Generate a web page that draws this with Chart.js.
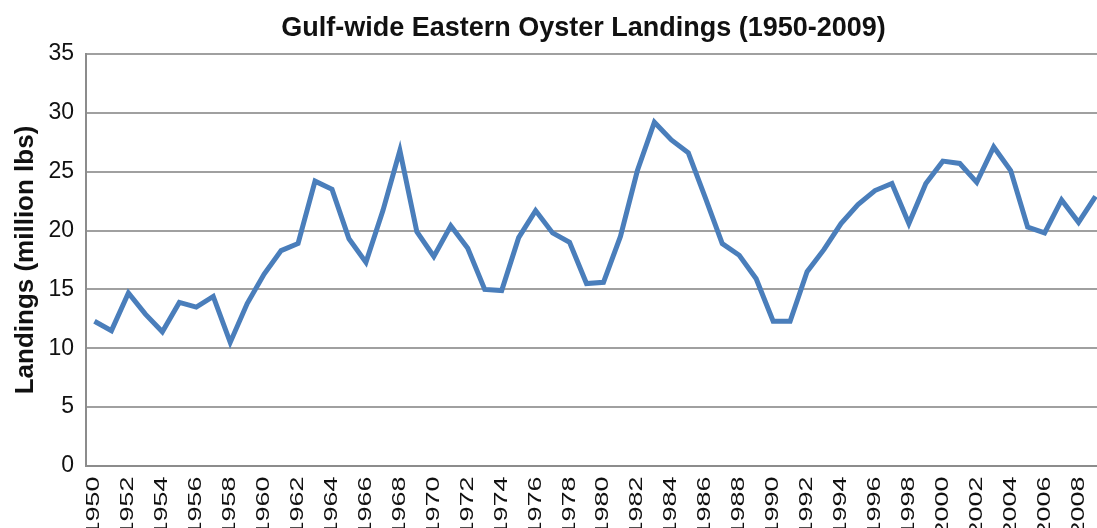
<!DOCTYPE html>
<html>
<head>
<meta charset="utf-8">
<script src="https://cdn.jsdelivr.net/npm/chart.js@4"></script>
<style>
  html, body { margin: 0; padding: 0; background: #fff; overflow: hidden; }
  #wrap { position: relative; width: 1167px; height: 560px; }
</style>
</head>
<body>
<div id="wrap"><canvas id="c"></canvas></div>
<script>
const titleText = 'Gulf-wide Eastern Oyster Landings (1950-2009)';
const yAxisTitle = 'Landings (million lbs)';
const years = [
  '1950','1951','1952','1953','1954','1955','1956','1957','1958','1959',
  '1960','1961','1962','1963','1964','1965','1966','1967','1968','1969',
  '1970','1971','1972','1973','1974','1975','1976','1977','1978','1979',
  '1980','1981','1982','1983','1984','1985','1986','1987','1988','1989',
  '1990','1991','1992','1993','1994','1995','1996','1997','1998','1999',
  '2000','2001','2002','2003','2004','2005','2006','2007','2008','2009'
];
const landings = [
  12.3, 11.5, 14.7, 12.9, 11.4, 13.9, 13.5, 14.4, 10.5, 13.8,
  16.3, 18.3, 18.9, 24.2, 23.5, 19.3, 17.3, 21.7, 26.8, 19.9,
  17.8, 20.4, 18.5, 15.0, 14.9, 19.4, 21.7, 19.8, 19.0, 15.5,
  15.6, 19.5, 25.1, 29.2, 27.7, 26.6, 22.8, 18.9, 17.9, 15.9,
  12.3, 12.3, 16.5, 18.4, 20.6, 22.2, 23.4, 24.0, 20.6, 24.0,
  25.9, 25.7, 24.1, 27.1, 25.1, 20.3, 19.8, 22.6, 20.7, 22.9
];
const yTicks = [0, 5, 10, 15, 20, 25, 30, 35];

const ctx = document.getElementById('c');
new Chart(ctx, {
  type: 'line',
  data: {
    labels: years,
    datasets: [{
      data: landings,
      borderColor: '#4a7ebb',
      borderWidth: 5,
      pointRadius: 0,
      tension: 0,
      fill: false
    }]
  },
  options: {
    responsive: true,
    maintainAspectRatio: false,
    animation: false,
    layout: { padding: 0 },
    plugins: {
      legend: { display: false },
      tooltip: { enabled: false },
      title: {
        display: true,
        text: titleText,
        color: '#111',
        font: { family: 'Liberation Sans', size: 27, weight: 'bold', lineHeight: 1.2 },
        padding: { top: 12, bottom: 9.6 },
        align: 'center'
      }
    },
    scales: {
      x: {
        type: 'category',
        offset: true,
        grid: { display: false, drawTicks: false },
        border: { display: true, color: '#8c8c8c', width: 2 },
        ticks: {
          autoSkip: false,
          minRotation: 90,
          maxRotation: 90,
          padding: 7,
          color: '#111',
          font: { family: 'Liberation Sans', size: 18 },
          callback: function(val, idx) { return idx % 2 === 0 ? this.getLabelForValue(val) : ''; }
        },
        afterFit: function(scale) {
          scale.height = 94;
          scale.paddingLeft = 0;
          scale.paddingRight = 63;
          if (!scale._stretchPatched) {
            const orig = scale.drawLabels;
            scale.drawLabels = function(area) {
              const c = this.ctx;
              const t = this.top;
              c.save();
              c.translate(0, t);
              c.scale(1, 1.5);
              c.translate(0, -t);
              orig.call(this, area);
              c.restore();
            };
            scale._stretchPatched = true;
          }
        }
      },
      y: {
        min: 0,
        max: 35,
        afterBuildTicks: function(scale) { scale.ticks = yTicks.map(v => ({ value: v })); },
        grid: { color: '#a0a0a0', lineWidth: 2, drawTicks: false },
        border: { display: true, color: '#8c8c8c', width: 2 },
        ticks: {
          padding: 12,
          color: '#111',
          font: { family: 'Liberation Sans', size: 23 }
        },
        title: {
          display: true,
          text: yAxisTitle,
          color: '#111',
          font: { family: 'Liberation Sans', size: 26, weight: 'bold', lineHeight: 1.2 },
          padding: { top: 10, bottom: 0 }
        },
        afterFit: function(scale) { scale.width = 86; }
      }
    }
  }
});
</script>
</body>
</html>
